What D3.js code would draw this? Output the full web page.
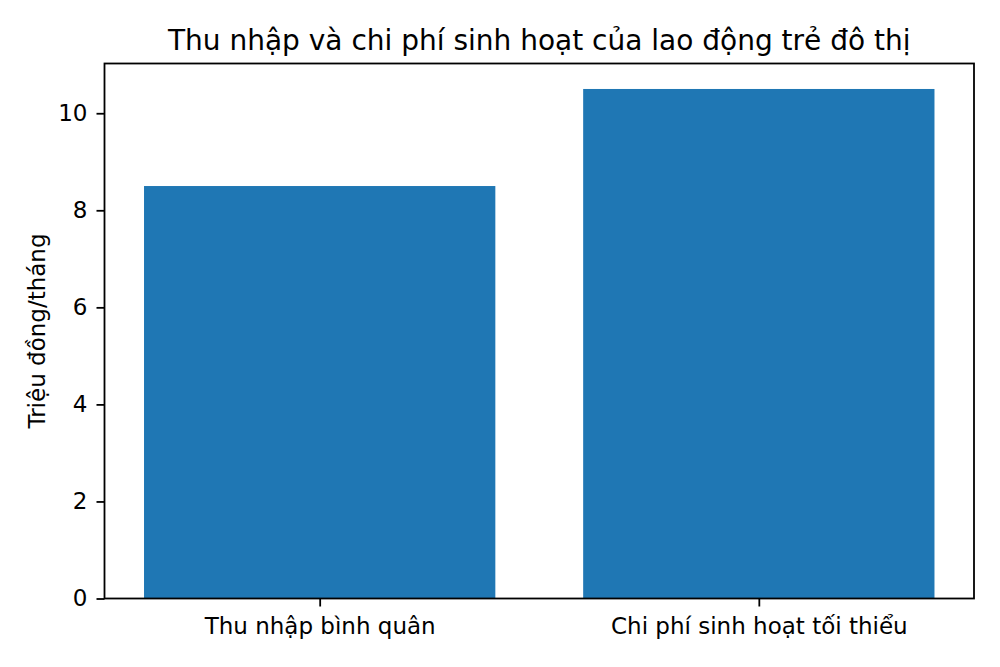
<!DOCTYPE html>
<html>
<head>
<meta charset="utf-8">
<script src="https://cdn.jsdelivr.net/npm/d3@7"></script>
<style>
  body { margin: 0; background: #fff; }
  text { font-family: "DejaVu Sans", sans-serif; fill: #000; }
</style>
</head>
<body>
<div id="chart"></div>
<script>
"use strict";

// Chart data
const categories = ["Thu nhập bình quân", "Chi phí sinh hoạt tối thiểu"];
const values = [8.5, 10.5]; // triệu đồng/tháng
const yTicks = [0, 2, 4, 6, 8, 10];

const titleText = "Thu nhập và chi phí sinh hoạt của lao động trẻ đô thị";
const yLabelText = "Triệu đồng/tháng";

const width = 1000;
const height = 667;
const margin = { top: 63.5, right: 26, bottom: 68.5, left: 104.5 };
const plotW = width - margin.left - margin.right;
const plotH = height - margin.top - margin.bottom;

const svg = d3.select("#chart")
  .append("svg")
  .attr("width", width)
  .attr("height", height);

const g = svg.append("g")
  .attr("transform", `translate(${margin.left},${margin.top})`);

// x in "bar index" units, like matplotlib: bars width 0.8, 5% margins
const barWidth = 0.8;
const xMin = -barWidth / 2, xMax = categories.length - 1 + barWidth / 2;
const xPad = (xMax - xMin) * 0.05;
const x = d3.scaleLinear()
  .domain([xMin - xPad, xMax + xPad])
  .range([0, plotW]);

const yMax = d3.max(values) * 1.05;
const y = d3.scaleLinear()
  .domain([0, yMax])
  .range([plotH, 0]);

// bars
g.selectAll("rect.bar")
  .data(values)
  .join("rect")
  .attr("class", "bar")
  .attr("x", (d, i) => x(i - barWidth / 2))
  .attr("width", (d, i) => x(i + barWidth / 2) - x(i - barWidth / 2))
  .attr("y", d => y(d))
  .attr("height", d => y(0) - y(d))
  .attr("fill", "#1f77b4");

// axes
const tickFont = "23px";
const yAxis = d3.axisLeft(y).tickValues(yTicks).tickSize(8).tickPadding(9);
const xAxis = d3.axisBottom(x)
  .tickValues(categories.map((c, i) => i))
  .tickFormat(i => categories[i])
  .tickSize(8).tickPadding(11);

const gy = g.append("g").call(yAxis);
const gx = g.append("g").attr("transform", `translate(0,${plotH})`).call(xAxis);

[gx, gy].forEach(a => {
  a.select(".domain").remove();
  a.selectAll(".tick line").attr("stroke", "#000").attr("stroke-width", 1.8);
  a.selectAll(".tick text")
    .style("font-family", "DejaVu Sans, sans-serif")
    .style("font-size", tickFont)
    .attr("fill", "#000");
});

// frame (spines)
g.append("rect")
  .attr("x", 0).attr("y", 0)
  .attr("width", plotW).attr("height", plotH)
  .attr("fill", "none")
  .attr("stroke", "#000")
  .attr("stroke-width", 1.8);

// title
svg.append("text")
  .attr("x", margin.left + plotW / 2)
  .attr("y", margin.top - 14)
  .attr("text-anchor", "middle")
  .style("font-size", "28px")
  .text(titleText);

// y label
svg.append("text")
  .attr("transform", `translate(45,${margin.top + plotH / 2}) rotate(-90)`)
  .attr("text-anchor", "middle")
  .style("font-size", "23px")
  .text(yLabelText);
</script>
</body>
</html>
